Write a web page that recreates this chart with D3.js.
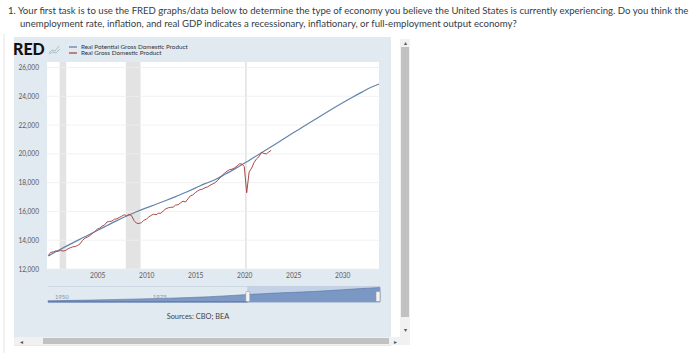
<!DOCTYPE html>
<html>
<head>
<meta charset="utf-8">
<script src="https://cdn.jsdelivr.net/npm/d3@7"></script>
<style>
  body { margin: 0; background: #fff; }
  svg { display: block; font-family: Lato, "Open Sans", sans-serif; }
</style>
</head>
<body>
<svg></svg>
<script>
// question text above the chart
let questionLines = [
  "1. Your first task is to use the FRED graphs/data below to determine the type of economy you believe the United States is currently experiencing. Do you think the",
  "unemployment rate, inflation, and real GDP indicates a recessionary, inflationary, or full-employment output economy?"
]

let seriesNames = ["Real Potential Gross Domestic Product", "Real Gross Domestic Product"]

// Real GDP, quarterly from 2000Q1 to 2022Q4 (billions of chained dollars)
let realGdp = [
  12924, 13161, 13178, 13260,
  13223, 13300, 13245, 13281,
  13397, 13478, 13538, 13559,
  13634, 13751, 13985, 14146,
  14221, 14330, 14465, 14606,
  14767, 14839, 14974, 15067,
  15267, 15302, 15327, 15456,
  15493, 15582, 15667, 15768,
  15702, 15792, 15710, 15366,
  15187, 15162, 15216, 15379,
  15456, 15605, 15727, 15808,
  15770, 15876, 15870, 16048,
  16179, 16253, 16283, 16300,
  16441, 16464, 16594, 16713,
  16654, 16868, 17084, 17143,
  17305, 17423, 17520, 17549,
  17652, 17702, 17812, 17896,
  17997, 18123, 18316, 18514,
  18665, 18791, 18905, 18935,
  19020, 19142, 19305, 19300,
  19118, 17300, 18746, 19006,
  19400, 19650, 19800, 20100,
  20030, 19990, 20130, 20250
]

// Real potential GDP
let potentialDates = [
  "2000-01-01", "2001-01-01", "2002-01-01", "2003-01-01", "2004-01-01",
  "2005-01-01", "2006-01-01", "2007-01-01", "2008-01-01", "2009-01-01",
  "2010-01-01", "2011-01-01", "2012-01-01", "2013-01-01", "2014-01-01",
  "2015-01-01", "2016-01-01", "2017-01-01", "2018-01-01", "2019-01-01",
  "2020-01-01", "2021-01-01", "2022-01-01", "2023-01-01", "2024-01-01",
  "2025-01-01", "2026-01-01", "2027-01-01", "2028-01-01", "2029-01-01",
  "2030-01-01", "2031-01-01", "2032-01-01", "2033-01-01", "2033-10-01"
]
let potentialGdp = [
  12900, 13280, 13640, 13990, 14330,
  14680, 15020, 15360, 15680, 15980,
  16250, 16500, 16760, 17030, 17320,
  17620, 17930, 18200, 18560, 18940,
  19340, 19760, 20180, 20600, 21030,
  21460, 21880, 22300, 22720, 23130,
  23530, 23920, 24290, 24640, 24850
]

// earlier potential GDP, only seen in the navigator
let navDates = ["1949-01-01", "1960-01-01", "1970-01-01", "1980-01-01", "1990-01-01"]
let navValues = [2150, 3300, 4900, 6600, 9000]
let navLabels = ["1950", "1975"]

let recessions = [
  ["2001-03-01", "2001-11-01"],
  ["2007-12-01", "2009-06-01"],
  ["2020-02-01", "2020-04-01"]
]

let yTicks = [12000, 14000, 16000, 18000, 20000, 22000, 24000, 26000]
let xTickYears = [2005, 2010, 2015, 2020, 2025, 2030]

let parse = d3.timeParse("%Y-%m-%d")
let gdpData = realGdp.map((v, i) => ({ date: new Date(2000, i * 3, 1), value: v }))
let potData = potentialDates.map((d, i) => ({ date: parse(d), value: potentialGdp[i] }))
let navData = navDates.map((d, i) => ({ date: parse(d), value: navValues[i] })).concat(potData)

let blue = "#6384ab"
let red = "#a94b47"

let svg = d3.select("svg").attr("width", 700).attr("height", 353)

// page border
svg.append("line").attr("x1", 4).attr("x2", 4).attr("y1", 34).attr("y2", 353)
  .attr("stroke", "#e4e4e4")

svg.selectAll(".q").data(questionLines).enter().append("text")
  .attr("x", (d, i) => i == 0 ? 8 : 20)
  .attr("y", (d, i) => 14 + i * 13)
  .attr("font-size", 9.6)
  .attr("fill", "#333d46")
  .text(d => d)

// FRED panel background
svg.append("rect").attr("x", 14).attr("y", 37).attr("width", 377).attr("height", 309)
  .attr("fill", "#e1e9f1")

// logo + legend
svg.append("text").attr("x", 13).attr("y", 55).attr("font-size", 16).attr("font-weight", 900)
  .attr("fill", "#111").attr("font-family", "Lato, sans-serif").text("RED")
let icon = svg.append("g").attr("fill", "none").attr("stroke-width", 0.8)
icon.append("path").attr("d", "M49,53 L52,50 L55,51 L59,46").attr("stroke", "#9bc08a")
icon.append("path").attr("d", "M49,54 L53,52 L56,53 L60,49").attr("stroke", "#9fb3cc")

let legend = svg.selectAll(".legend").data(seriesNames).enter().append("g")
  .attr("transform", (d, i) => "translate(69," + (47 + i * 6) + ")")
legend.append("line").attr("x1", 0).attr("x2", 8)
  .attr("stroke", (d, i) => i == 0 ? blue : red).attr("stroke-width", 1.3)
legend.append("text").attr("x", 12).attr("y", 2.2).attr("font-size", 6.3).attr("fill", "#333").text(d => d)

// main plot
let x = d3.scaleTime().domain([parse("1999-11-15"), parse("2033-10-01")]).range([47, 379])
let y = d3.scaleLinear().domain([12000, 26000]).range([269, 67.5])

svg.append("rect").attr("x", 47).attr("y", 62).attr("width", 332).attr("height", 207).attr("fill", "#fff")

svg.selectAll(".rec").data(recessions).enter().append("rect")
  .attr("x", d => x(parse(d[0])))
  .attr("width", d => Math.max(1, x(parse(d[1])) - x(parse(d[0]))))
  .attr("y", 62).attr("height", 207)
  .attr("fill", "#e3e3e3")

svg.append("g").selectAll("line").data(yTicks).enter().append("line")
  .attr("x1", 47).attr("x2", 379)
  .attr("y1", d => y(d)).attr("y2", d => y(d))
  .attr("stroke", "#eeeeee").attr("stroke-width", 0.8)

let yAxis = svg.append("g").attr("class", "axis y")
  .attr("transform", "translate(39,0)")
  .call(d3.axisLeft(y).tickValues(yTicks).tickSize(0).tickPadding(0).tickFormat(d3.format(",")))
yAxis.select(".domain").remove()
yAxis.selectAll("text").attr("font-size", 6.6).attr("fill", "#5a5a5a").attr("font-family", "Lato, sans-serif")

let xAxis = svg.append("g").attr("class", "axis x")
  .attr("transform", "translate(0,273)")
  .call(d3.axisBottom(x).tickValues(xTickYears.map(yr => new Date(yr, 0, 1))).tickSize(0).tickPadding(0).tickFormat(d3.timeFormat("%Y")))
xAxis.select(".domain").remove()
xAxis.selectAll("text").attr("font-size", 6.6).attr("fill", "#5a5a5a").attr("font-family", "Lato, sans-serif")

let line = d3.line().x(d => x(d.date)).y(d => y(d.value))

svg.append("path").datum(potData)
  .attr("fill", "none").attr("stroke", blue).attr("stroke-width", 1.2)
  .attr("d", line.curve(d3.curveMonotoneX))

svg.append("path").datum(gdpData)
  .attr("fill", "none").attr("stroke", red).attr("stroke-width", 1)
  .attr("d", d3.line().x(d => x(d.date)).y(d => y(d.value)))

// navigator
let nx = d3.scaleTime().domain([parse("1949-01-01"), parse("2033-10-01")]).range([48, 380])
let ny = d3.scaleLinear().domain([0, 25000]).range([302, 287.5])
let selX0 = nx(parse("2000-01-01"))

svg.append("rect").attr("x", selX0).attr("y", 286.5).attr("width", 380 - selX0).attr("height", 15.5)
  .attr("fill", "#c3d2e6")

let area = d3.area().x(d => nx(d.date)).y0(302).y1(d => ny(d.value)).curve(d3.curveMonotoneX)
svg.append("path").datum(navData)
  .attr("fill", "#7390bf").attr("fill-opacity", 0.9)
  .attr("stroke", "#5574a6").attr("stroke-width", 0.6)
  .attr("d", area)

svg.append("line").attr("x1", 48).attr("x2", selX0).attr("y1", 302).attr("y2", 302)
  .attr("stroke", "#4f6fa3").attr("stroke-width", 0.8)
svg.append("path")
  .attr("d", "M48,286.5 L" + selX0 + ",286.5 L" + selX0 + ",302 L380,302 L380,286.5 L" + selX0 + ",286.5")
  .attr("fill", "none").attr("stroke", "#b7c4d6").attr("stroke-width", 0.5)

svg.selectAll(".navlab").data(navLabels).enter().append("text")
  .attr("x", d => nx(new Date(+d, 0, 1)) + 3)
  .attr("y", 298.5).attr("font-size", 6).attr("fill", "#8a96a6")
  .text(d => d)

svg.selectAll(".handle").data([selX0, 378]).enter().append("rect")
  .attr("x", d => d - 2).attr("y", 291.5).attr("width", 4).attr("height", 10)
  .attr("rx", 1).attr("fill", "#f4f4f4").attr("stroke", "#999").attr("stroke-width", 0.6)

svg.append("text").attr("x", 198).attr("y", 318.5).attr("text-anchor", "middle")
  .attr("font-size", 7.4).attr("fill", "#444").text("Sources: CBO; BEA")

// scrollbars
svg.append("rect").attr("x", 14).attr("y", 337).attr("width", 377).attr("height", 8).attr("fill", "#f1f1f1")
svg.append("rect").attr("x", 43).attr("y", 338).attr("width", 346).attr("height", 6).attr("fill", "#c1c1c1")
svg.append("text").attr("x", 20).attr("y", 343.5).attr("font-size", 6).attr("fill", "#555").text("◂")
svg.append("rect").attr("x", 391).attr("y", 337).attr("width", 19).attr("height", 8).attr("fill", "#f1f1f1")
svg.append("text").attr("x", 394).attr("y", 343.5).attr("font-size", 6).attr("fill", "#555").text("▸")

svg.append("rect").attr("x", 400).attr("y", 39).attr("width", 10).attr("height", 298).attr("fill", "#f1f1f1")
svg.append("rect").attr("x", 401).attr("y", 47).attr("width", 8).attr("height", 270).attr("fill", "#c1c1c1")
svg.append("text").attr("x", 405).attr("y", 45).attr("text-anchor", "middle").attr("font-size", 6).attr("fill", "#555").text("▴")
svg.append("text").attr("x", 405).attr("y", 332).attr("text-anchor", "middle").attr("font-size", 6).attr("fill", "#555").text("▾")
</script>
</body>
</html>
